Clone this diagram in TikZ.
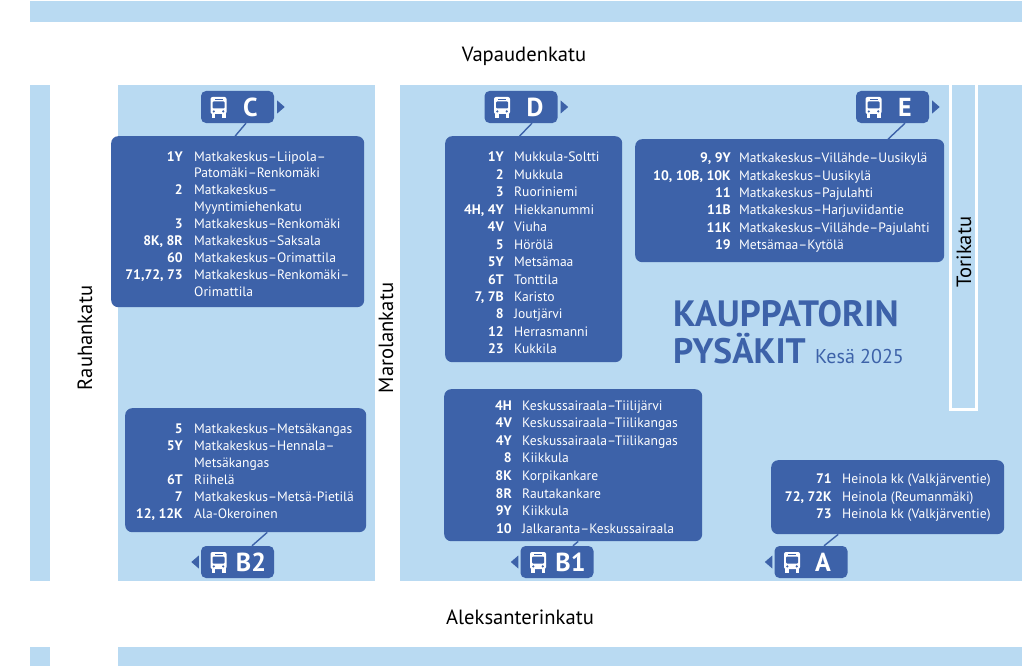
\documentclass[tikz,border=0pt]{standalone}
\usepackage{fontspec}
\setmainfont{PT Sans}
\usepackage{xcolor}
\usetikzlibrary{positioning, calc}
\definecolor{blockblue}{HTML}{B9DAF2}
\definecolor{stopblue}{HTML}{3D62A9}
\tikzset{
  block/.style={fill=blockblue},
  panel/.style={rectangle, fill=stopblue, rounded corners=7pt, anchor=north west, inner sep=0pt},
  badge/.style={rectangle, fill=stopblue, rounded corners=5pt, minimum width=73pt, minimum height=32pt, inner sep=0pt},
  letter/.style={font=\fontsize{26}{26}\selectfont\bfseries, text=white, inner sep=0pt},
  stem/.style={stopblue, line width=1.4pt},
  numcol/.style={anchor=north east, align=right, inner sep=0pt, text=white, font=\fontsize{13.8}{#1}\selectfont\bfseries},
  numcol/.default=17.5,
  destcol/.style={anchor=north west, align=left, inner sep=0pt, text=white, font=\fontsize{13.6}{#1}\selectfont},
  destcol/.default=17.5,
  street/.style={font=\fontsize{20.6}{20.6}\selectfont, text=black, inner sep=0pt},
  pics/busicon/.style={code={
    \fill[white, rounded corners=2pt] (-8,-10) rectangle (8,7);
    \fill[white] (-7,6) rectangle (-3.5,10.5);
    \fill[white] (3.5,6) rectangle (7,10.5);
    \fill[stopblue, rounded corners=1pt] (-6,-5.5) rectangle (6,1.5);
    \fill[stopblue] (-4,-8) rectangle (4,-7);
    \fill[stopblue] (-4.7,4.4) circle (1.2);
    \fill[stopblue] (4.7,4.4) circle (1.2);
  }},
  pics/stoptip/.style={code={
    \fill[stopblue] (0,-6.5) -- (7.5,0) -- (0,6.5) -- cycle;
  }},
}
\begin{document}
\begin{tikzpicture}[x=1pt, y=-1pt]
  \useasboundingbox (0,0) rectangle (1024,666);

  % City blocks
  \fill[block] (30,1) rectangle (1022,22);
  \fill[block] (30,85) rectangle (50,581);
  \fill[block] (118,85) rectangle (375,581);
  \fill[block] (400,85) rectangle (1022,581);
  \fill[block] (30,647) rectangle (50,666);
  \fill[block] (118,647) rectangle (1022,666);
  \draw[white, line width=3pt] (950,85) -- (950,409) -- (976,409) -- (976,85);

  % Streets
  \node[street] (vapaudenkatu) at (524,56) {Vapaudenkatu};
  \node[street] (aleksanterinkatu) at (520,617) {Aleksanterinkatu};
  \node[street, rotate=90] (rauhankatu) at (85,338) {Rauhankatu};
  \node[street, rotate=90] (marolankatu) at (386,338) {Marolankatu};
  \node[street, rotate=90] (torikatu) at (964,252) {Torikatu};

  % Title
  \node[anchor=west, inner sep=0pt, text=stopblue, font=\fontsize{36.6}{36.6}\selectfont\bfseries] (title) at (673,314) {KAUPPATORIN};
  \node[anchor=west, inner sep=0pt, text=stopblue, font=\fontsize{35.4}{35.4}\selectfont\bfseries] (subtitle) at (673,349) {PYSÄKIT};
  \node[anchor=base west, inner sep=0pt, text=stopblue, font=\fontsize{20}{20}\selectfont] (season) at ([xshift=9pt]subtitle.base east) {Kesä 2025};

  % Stop C
  \node[panel, minimum width=253pt, minimum height=171pt] (panelC) at (111,136) {};
  \node[badge] (stopC) at (237.5,107) {};
  \node[letter] (letterC) at ([xshift=13pt]stopC.center) {C};
  \pic at ([xshift=-19pt]stopC.center) {busicon};
  \pic at ([xshift=3pt]stopC.east) {stoptip};
  \draw[stem] ([xshift=8.5pt]stopC.south) -- ([xshift=-2.5pt]panelC.north);
  \node[numcol=16.9] (numC) at (183,149) {\strut 1Y\\~\\2\\~\\3\\8K, 8R\\60\\71,72, 73};
  \node[destcol=16.9] (destC) at (194,149) {\strut Matkakeskus–Liipola–\\Patomäki–Renkomäki\\Matkakeskus–\\Myyntimiehenkatu\\Matkakeskus–Renkomäki\\Matkakeskus–Saksala\\Matkakeskus–Orimattila\\Matkakeskus–Renkomäki–\\Orimattila};

  % Stop B2
  \node[panel, minimum width=241pt, minimum height=124pt] (panelB2) at (125,408) {};
  \node[badge] (stopB2) at (237.5,562) {};
  \node[letter] (letterB2) at ([xshift=13.5pt]stopB2.center) {B2};
  \pic at ([xshift=-19pt]stopB2.center) {busicon};
  \pic[xscale=-1] at ([xshift=-2pt]stopB2.west) {stoptip};
  \draw[stem] ([xshift=14.5pt]stopB2.north) -- ([xshift=21.5pt]panelB2.south);
  \node[numcol=17] (numB2) at (183,421.5) {\strut 5\\5Y\\~\\6T\\7\\12, 12K};
  \node[destcol=17] (destB2) at (194,421.5) {\strut Matkakeskus–Metsäkangas\\Matkakeskus–Hennala–\\Metsäkangas\\Riihelä\\Matkakeskus–Metsä-Pietilä\\Ala-Okeroinen};

  % Stop D
  \node[panel, minimum width=177pt, minimum height=226pt] (panelD) at (445,136) {};
  \node[badge] (stopD) at (521,107) {};
  \node[letter] (letterD) at ([xshift=14pt]stopD.center) {D};
  \pic at ([xshift=-19pt]stopD.center) {busicon};
  \pic at ([xshift=3pt]stopD.east) {stoptip};
  \draw[stem] ([xshift=11pt]stopD.south) -- ([xshift=-14pt]panelD.north);
  \node[numcol=17.45] (numD) at (504,149.5) {\strut 1Y\\2\\3\\4H, 4Y\\4V\\5\\5Y\\6T\\7, 7B\\8\\12\\23};
  \node[destcol=17.45] (destD) at (514,149.5) {\strut Mukkula-Soltti\\Mukkula\\Ruoriniemi\\Hiekkanummi\\Viuha\\Hörölä\\Metsämaa\\Tonttila\\Karisto\\Joutjärvi\\Herrasmanni\\Kukkila};

  % Stop E
  \node[panel, minimum width=309pt, minimum height=123pt] (panelE) at (635,139) {};
  \node[badge] (stopE) at (892.5,107) {};
  \node[letter] (letterE) at ([xshift=12.5pt]stopE.center) {E};
  \pic at ([xshift=-19pt]stopE.center) {busicon};
  \pic at ([xshift=3pt]stopE.east) {stoptip};
  \draw[stem] ([xshift=12.5pt]stopE.south) -- ([xshift=98.5pt]panelE.north);
  \node[numcol=17.3] (numE) at (731,150.5) {\strut 9, 9Y\\10, 10B, 10K\\11\\11B\\11K\\19};
  \node[destcol=17.3] (destE) at (739,150.5) {\strut Matkakeskus–Villähde–Uusikylä\\Matkakeskus–Uusikylä\\Matkakeskus–Pajulahti\\Matkakeskus–Harjuviidantie\\Matkakeskus–Villähde–Pajulahti\\Metsämaa–Kytölä};

  % Stop B1
  \node[panel, minimum width=258pt, minimum height=152pt] (panelB1) at (444,389) {};
  \node[badge] (stopB1) at (557,562) {};
  \node[letter] (letterB1) at ([xshift=13.5pt]stopB1.center) {B1};
  \pic at ([xshift=-19pt]stopB1.center) {busicon};
  \pic[xscale=-1] at ([xshift=-2pt]stopB1.west) {stoptip};
  \draw[stem] ([xshift=16pt]stopB1.north) -- ([xshift=5pt]panelB1.south);
  \node[numcol=17.6] (numB1) at (512,397.5) {\strut 4H\\4V\\4Y\\8\\8K\\8R\\9Y\\10};
  \node[destcol=17.6] (destB1) at (522,397.5) {\strut Keskussairaala–Tiilijärvi\\Keskussairaala–Tiilikangas\\Keskussairaala–Tiilikangas\\Kiikkula\\Korpikankare\\Rautakankare\\Kiikkula\\Jalkaranta–Keskussairaala};

  % Stop A
  \node[panel, minimum width=233pt, minimum height=74pt] (panelA) at (771,460) {};
  \node[badge] (stopA) at (811,562) {};
  \node[letter] (letterA) at ([xshift=12pt]stopA.center) {A};
  \pic at ([xshift=-19pt]stopA.center) {busicon};
  \pic[xscale=-1] at ([xshift=-2pt]stopA.west) {stoptip};
  \draw[stem] ([xshift=13pt]stopA.north) -- ([xshift=-49.5pt]panelA.south);
  \node[numcol] (numA) at (832,471.5) {\strut 71\\72, 72K\\73};
  \node[destcol] (destA) at (842,471.5) {\strut Heinola kk (Valkjärventie)\\Heinola (Reumanmäki)\\Heinola kk (Valkjärventie)};
\end{tikzpicture}
\end{document}
